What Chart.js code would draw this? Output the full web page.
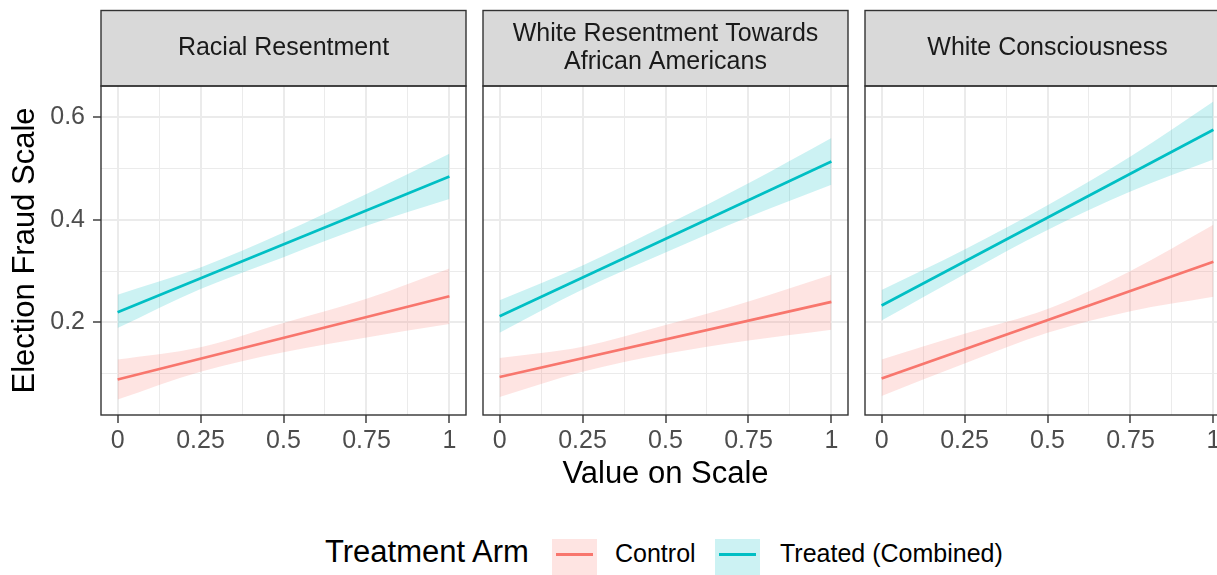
<!DOCTYPE html>
<html>
<head>
<meta charset="utf-8">
<script src="https://cdn.jsdelivr.net/npm/chart.js@4/dist/chart.umd.min.js"></script>
<style>
  html, body { margin: 0; padding: 0; background: #fff; overflow: hidden; }
  #wrap { position: relative; width: 1217px; height: 575px; overflow: hidden; font-family: "Liberation Sans", Arial, sans-serif; }
  canvas { position: absolute; top: 0; }
  .txt { position: absolute; white-space: nowrap; color: #000; }
  .key { position: absolute; top: 539px; width: 45px; height: 40px; }
  .key i { position: absolute; left: 4px; right: 4px; top: 13.5px; height: 3px; }
</style>
</head>
<body>
<div id="wrap">
  <canvas id="panel-0" width="470" height="480" style="left:0px"></canvas>
  <canvas id="panel-1" width="386" height="480" style="left:470px"></canvas>
  <canvas id="panel-2" width="380" height="480" style="left:856px"></canvas>

  <div class="txt" style="left:101px;width:1129px;top:457px;font-size:31px;line-height:31px;text-align:center">Value on Scale</div>

  <div class="txt" style="left:325px;top:536px;font-size:31px;line-height:31px">Treatment Arm</div>
  <div class="key" style="left:552px;background:rgba(248,118,109,0.2)"><i style="background:#F8766D"></i></div>
  <div class="txt" style="left:615px;top:541px;font-size:25px;line-height:25px">Control</div>
  <div class="key" style="left:715px;background:rgba(0,191,196,0.2)"><i style="background:#00BFC4"></i></div>
  <div class="txt" style="left:780px;top:541px;font-size:25px;line-height:25px">Treated (Combined)</div>
</div>

<script>
// facet titles
const panelTitles = ['Racial Resentment', ['White Resentment Towards', 'African Americans'], 'White Consciousness'];

// fitted lines, value at x = 0 and x = 1
const lineX = [0, 1];
const controlFit = [[0.089, 0.251], [0.094, 0.240], [0.091, 0.318]];
const treatedFit = [[0.220, 0.484], [0.212, 0.513], [0.233, 0.575]];

// confidence ribbons read at these x positions
const bandX = [0, 0.25, 0.5, 0.75, 1];
const controlUpper = [
  [0.128, 0.152, 0.199, 0.246, 0.305],
  [0.131, 0.153, 0.195, 0.241, 0.293],
  [0.128, 0.178, 0.226, 0.300, 0.390]
];
const controlLower = [
  [0.050, 0.104, 0.142, 0.171, 0.197],
  [0.055, 0.104, 0.139, 0.165, 0.186],
  [0.057, 0.120, 0.180, 0.222, 0.250]
];
const treatedUpper = [
  [0.254, 0.307, 0.375, 0.450, 0.528],
  [0.243, 0.311, 0.389, 0.471, 0.559],
  [0.263, 0.342, 0.428, 0.523, 0.630]
];
const treatedLower = [
  [0.189, 0.265, 0.327, 0.388, 0.440],
  [0.180, 0.264, 0.336, 0.405, 0.468],
  [0.204, 0.294, 0.380, 0.455, 0.517]
];

// ticks
const xMajorTicks = [0, 0.25, 0.5, 0.75, 1];
const xTickLabels = ['0', '0.25', '0.5', '0.75', '1'];
const xMinorTicks = [0.125, 0.375, 0.625, 0.875];
const yMajorTicks = [0.2, 0.4, 0.6];
const yTickLabels = ['0.2', '0.4', '0.6'];
const yMinorTicks = [0.1, 0.3, 0.5];

const CONTROL = '#F8766D';
const TREATED = '#00BFC4';
const FONT = '"Liberation Sans", Arial, sans-serif';

Chart.defaults.font.family = FONT;

// canvas placement: [canvas left, y axis width, right padding]
const panelLayout = [[0, 101, 4], [470, 13, 8], [856, 9, 6]];
const STRIP_TOP = 10.5;

const pts = (xs, ys) => xs.map((x, i) => ({ x: x, y: ys[i] }));
const isIn = (arr, v) => arr.some(a => Math.abs(a - v) < 1e-9);

// draws the grey facet strip and the dark frame round each panel
const facetFrame = {
  id: 'facetFrame',
  afterDraw(chart, args, opts) {
    const { ctx, chartArea: a } = chart;
    ctx.save();
    ctx.fillStyle = '#d9d9d9';
    ctx.fillRect(a.left, STRIP_TOP, a.right - a.left, a.top - STRIP_TOP);
    ctx.strokeStyle = '#333333';
    ctx.lineWidth = 1.4;
    ctx.strokeRect(a.left, STRIP_TOP, a.right - a.left, a.top - STRIP_TOP);
    ctx.strokeRect(a.left, a.top, a.right - a.left, a.bottom - a.top);

    const lines = [].concat(opts.title);
    const lineH = 27.5;
    const cy = (STRIP_TOP + a.top) / 2;
    ctx.fillStyle = '#1a1a1a';
    ctx.font = '25px ' + FONT;
    ctx.textAlign = 'center';
    ctx.textBaseline = 'middle';
    lines.forEach((t, i) => {
      ctx.fillText(t, (a.left + a.right) / 2, cy - (lines.length - 1) * lineH / 2 + i * lineH);
    });
    ctx.restore();
  }
};

function buildPanel(p) {
  const [left, yWidth, padRight] = panelLayout[p];
  const first = p === 0;
  const band = { borderWidth: 0, order: 2, cubicInterpolationMode: 'monotone' };

  const datasets = [
    Object.assign({ data: pts(bandX, controlUpper[p]), fill: '+1', backgroundColor: 'rgba(248,118,109,0.2)' }, band),
    Object.assign({ data: pts(bandX, controlLower[p]), fill: false }, band),
    Object.assign({ data: pts(bandX, treatedUpper[p]), fill: '+1', backgroundColor: 'rgba(0,191,196,0.2)' }, band),
    Object.assign({ data: pts(bandX, treatedLower[p]), fill: false }, band),
    { data: pts(lineX, controlFit[p]), borderColor: CONTROL, borderWidth: 2.7, fill: false, order: 1 },
    { data: pts(lineX, treatedFit[p]), borderColor: TREATED, borderWidth: 2.7, fill: false, order: 1 }
  ];

  return new Chart(document.getElementById('panel-' + p), {
    type: 'line',
    data: { datasets: datasets },
    options: {
      responsive: false,
      animation: false,
      devicePixelRatio: 1,
      layout: { padding: { top: 86, right: padRight, bottom: 0, left: 0 } },
      elements: { point: { radius: 0, hoverRadius: 0 }, line: { tension: 0 } },
      plugins: {
        legend: { display: false },
        tooltip: { enabled: false },
        facetFrame: { title: panelTitles[p] }
      },
      scales: {
        x: {
          type: 'linear',
          min: -0.05,
          max: 1.05,
          afterBuildTicks: s => {
            s.ticks = xMajorTicks.concat(xMinorTicks).sort((a, b) => a - b).map(v => ({ value: v }));
          },
          afterFit: s => { s.height = 65; },
          border: { display: false },
          grid: {
            color: '#ebebeb',
            lineWidth: c => isIn(xMajorTicks, c.tick.value) ? 2 : 1,
            tickColor: c => isIn(xMajorTicks, c.tick.value) ? '#333333' : 'rgba(0,0,0,0)',
            tickLength: 8,
            tickWidth: 1.4
          },
          ticks: {
            autoSkip: false,
            maxRotation: 0,
            padding: 3,
            color: '#4d4d4d',
            font: { size: 25 },
            callback: v => {
              const k = xMajorTicks.findIndex(m => Math.abs(m - v) < 1e-9);
              return k >= 0 ? xTickLabels[k] : '';
            }
          }
        },
        y: {
          type: 'linear',
          min: 0.02,
          max: 0.66,
          afterBuildTicks: s => {
            s.ticks = yMajorTicks.concat(yMinorTicks).sort((a, b) => a - b).map(v => ({ value: v }));
          },
          afterFit: s => { s.width = yWidth; },
          border: { display: false },
          grid: {
            color: '#ebebeb',
            lineWidth: c => isIn(yMajorTicks, c.tick.value) ? 2 : 1,
            drawTicks: first,
            tickColor: c => isIn(yMajorTicks, c.tick.value) ? '#333333' : 'rgba(0,0,0,0)',
            tickLength: 8,
            tickWidth: 1.4
          },
          ticks: {
            display: first,
            autoSkip: false,
            padding: 8,
            color: '#4d4d4d',
            font: { size: 25 },
            callback: v => {
              const k = yMajorTicks.findIndex(m => Math.abs(m - v) < 1e-9);
              return k >= 0 ? yTickLabels[k] : '';
            }
          },
          title: {
            display: first,
            text: 'Election Fraud Scale',
            color: '#000000',
            font: { size: 31 },
            padding: { top: 7, bottom: 0 }
          }
        }
      }
    },
    plugins: [facetFrame]
  });
}

panelTitles.forEach((t, p) => buildPanel(p));
</script>
</body>
</html>
